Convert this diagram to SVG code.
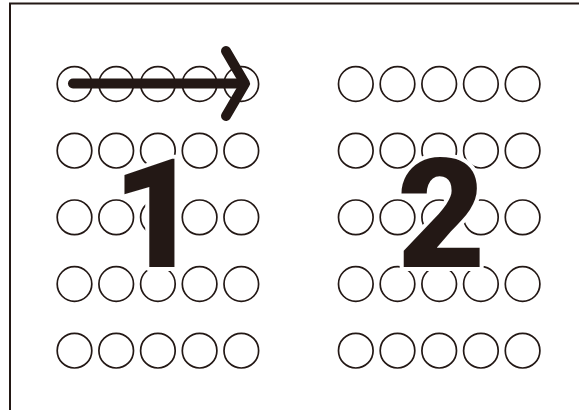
<svg xmlns="http://www.w3.org/2000/svg" width="579" height="410" viewBox="0 0 579 410">
<style>
.c{fill:none;stroke:#231815;stroke-width:1.7}
.frame{fill:none;stroke:#231815;stroke-width:2}
.num{font-family:Roboto,"Liberation Sans",sans-serif;font-weight:900;font-size:153px;fill:#231815;stroke:#fff;stroke-width:8;paint-order:stroke;stroke-linejoin:round}
.arr{fill:none;stroke:#231815;stroke-width:10;stroke-linecap:round;stroke-linejoin:round}
</style>
<defs>
<g id="row">
<circle class="c" cx="0" cy="0" r="17.3"/>
<circle class="c" cx="41.7" cy="0" r="17.3"/>
<circle class="c" cx="83.4" cy="0" r="17.3"/>
<circle class="c" cx="125.1" cy="0" r="17.3"/>
<circle class="c" cx="166.8" cy="0" r="17.3"/>
</g>
</defs>
<rect width="579" height="410" fill="#fff"/>
<path class="frame" d="M10,420 V3.5 H590"/>
<g id="grid1">
<use href="#row" x="74.5" y="84"/>
<use href="#row" x="74.5" y="150.7"/>
<use href="#row" x="74.5" y="217.3"/>
<use href="#row" x="74.5" y="284"/>
<use href="#row" x="74.5" y="350.7"/>
</g>
<g id="grid2">
<use href="#row" x="355.8" y="84"/>
<use href="#row" x="355.8" y="150.7"/>
<use href="#row" x="355.8" y="217.3"/>
<use href="#row" x="355.8" y="284"/>
<use href="#row" x="355.8" y="350.7"/>
</g>
<g id="label1"><text class="num" x="112" y="267">1</text></g>
<g id="label2"><text class="num" x="397" y="267">2</text></g>
<g id="connectors">
<path class="arr" d="M73,83.5 H243"/>
<path class="arr" d="M226,51 L245,83.5 L226,116"/>
</g>
</svg>
